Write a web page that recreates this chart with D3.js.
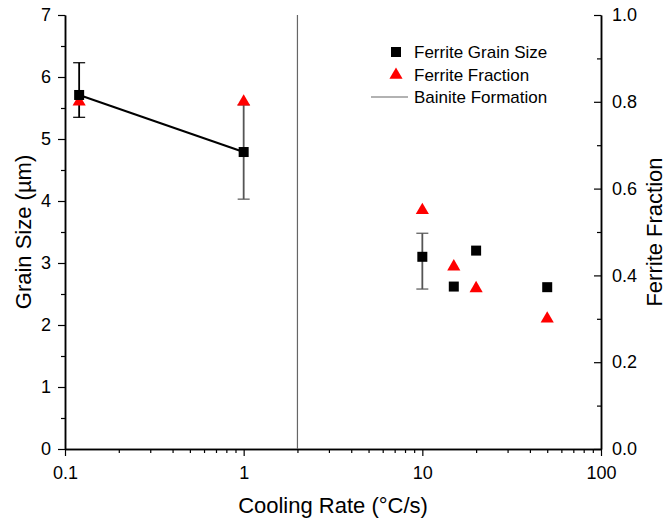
<!DOCTYPE html>
<html>
<head>
<meta charset="utf-8">
<script src="https://d3js.org/d3.v7.min.js"></script>
<style>
body { margin: 0; background: #fff; }
text { font-family: "Liberation Sans", Arial, sans-serif; fill: #000; }
</style>
</head>
<body>
<script>
// data
var rates = [0.12, 1, 10, 15, 20, 50];
var grainSize = [5.71, 4.79, 3.10, 2.62, 3.20, 2.61];
var grainErrLow = [0.36, 0.76, 0.52, null, null, null];
var grainErrHigh = [0.52, 0.76, 0.38, null, null, null];
var ferriteFraction = [0.80, 0.80, 0.55, 0.42, 0.37, 0.30];
var bainiteRate = 2;
var xTicks = [0.1, 1, 10, 100];
var yTicks = [0, 1, 2, 3, 4, 5, 6, 7];
var y2Ticks = [0, 0.2, 0.4, 0.6, 0.8, 1.0];

var W = 669, H = 519;
var mLeft = 65, mRight = 601, mTop = 15, mBottom = 449;

var svg = d3.select("body").append("svg")
    .attr("width", W)
    .attr("height", H);

var x = d3.scaleLog().domain([0.1, 100]).range([mLeft, mRight]);
var y = d3.scaleLinear().domain([0, 7]).range([mBottom, mTop]);
var y2 = d3.scaleLinear().domain([0, 1]).range([mBottom, mTop]);

// minor ticks on the log axis: 2..9 in each decade
var xMinor = [];
[0.1, 1, 10].forEach(function(d) {
    for (var k = 2; k <= 9; k++) xMinor.push(d * k);
});

// bottom axis
var gx = svg.append("g").attr("transform", "translate(0," + mBottom + ")");
gx.call(d3.axisBottom(x).tickValues(xTicks).tickFormat(d3.format("~g")).tickSize(7).tickPadding(10).tickSizeOuter(0));
gx.append("g").call(d3.axisBottom(x).tickValues(xMinor).tickFormat("").tickSize(4).tickSizeOuter(0));

// left axis
var gy = svg.append("g").attr("transform", "translate(" + mLeft + ",0)");
gy.call(d3.axisLeft(y).tickValues(yTicks).tickFormat(d3.format("d")).tickSize(7).tickPadding(7).tickSizeOuter(0));
gy.append("g").call(d3.axisLeft(y).tickValues(d3.range(0.5, 7, 1)).tickFormat("").tickSize(4).tickSizeOuter(0));

// right axis, ticks point inward, labels outside
var gy2 = svg.append("g").attr("transform", "translate(" + mRight + ",0)");
gy2.call(d3.axisRight(y2).tickValues(y2Ticks).tickFormat(d3.format(".1f")).tickSize(-7).tickPadding(11).tickSizeOuter(0));
gy2.append("g").call(d3.axisRight(y2).tickValues([0.1, 0.3, 0.5, 0.7, 0.9]).tickFormat("").tickSize(-4).tickSizeOuter(0));

[gx, gy, gy2].forEach(function(g) {
    g.selectAll(".domain").attr("stroke", "#000").attr("stroke-width", 1.5);
    g.selectAll("line").attr("stroke", "#000").attr("stroke-width", 1.2);
    g.selectAll("text").attr("font-size", 18).attr("font-family", "Liberation Sans, Arial, sans-serif");
});

// axis titles
svg.append("text").attr("x", (mLeft + mRight) / 2).attr("y", 513)
    .attr("text-anchor", "middle").style("font-size", "22px").text("Cooling Rate (°C/s)");
svg.append("text").attr("transform", "translate(31," + (mTop + mBottom) / 2 + ") rotate(-90)")
    .attr("text-anchor", "middle").style("font-size", "22px").text("Grain Size (µm)");
svg.append("text").attr("transform", "translate(662," + (mTop + mBottom) / 2 + ") rotate(-90)")
    .attr("text-anchor", "middle").style("font-size", "22px").text("Ferrite Fraction");

// bainite formation line
svg.append("line")
    .attr("x1", x(bainiteRate)).attr("x2", x(bainiteRate))
    .attr("y1", mTop).attr("y2", mBottom)
    .attr("stroke", "#666").attr("stroke-width", 1.2);

// error bars
var errData = rates.map(function(r, i) {
    return { r: r, v: grainSize[i], lo: grainErrLow[i], hi: grainErrHigh[i], i: i };
}).filter(function(d) { return d.lo !== null; });

var eb = svg.selectAll(".err").data(errData).enter().append("g").attr("class", "err")
    .attr("stroke", function(d) { return d.i === 0 ? "#000" : "#555"; })
    .attr("stroke-width", 1.2);
eb.append("line")
    .attr("x1", function(d) { return x(d.r); }).attr("x2", function(d) { return x(d.r); })
    .attr("y1", function(d) { return y(d.v - d.lo); })
    .attr("y2", function(d) { return y(d.v + d.hi); })
    .attr("stroke-width", 1.8);
eb.selectAll(".cap").data(function(d) { return [d.v - d.lo, d.v + d.hi].map(function(v) { return { r: d.r, v: v }; }); })
    .enter().append("line")
    .attr("x1", function(d) { return x(d.r) - 6; }).attr("x2", function(d) { return x(d.r) + 6; })
    .attr("y1", function(d) { return y(d.v); }).attr("y2", function(d) { return y(d.v); });

// line joining the first two grain size points
svg.append("path")
    .datum(rates.slice(0, 2).map(function(r, i) { return [r, grainSize[i]]; }))
    .attr("fill", "none").attr("stroke", "#000").attr("stroke-width", 2)
    .attr("d", d3.line().x(function(d) { return x(d[0]); }).y(function(d) { return y(d[1]); }));

// ferrite fraction triangles
var tri = d3.symbol().type(d3.symbolTriangle).size(75);
svg.selectAll(".tri").data(rates).enter().append("path")
    .attr("class", "tri")
    .attr("d", tri)
    .attr("fill", "#ff0000")
    .attr("transform", function(d, i) { return "translate(" + x(d) + "," + y2(ferriteFraction[i]) + ")"; });

// grain size squares
svg.selectAll(".sq").data(rates).enter().append("rect")
    .attr("class", "sq")
    .attr("x", function(d) { return x(d) - 5; })
    .attr("y", function(d, i) { return y(grainSize[i]) - 5; })
    .attr("width", 10).attr("height", 10)
    .attr("fill", "#000");

// legend
var lg = svg.append("g");
lg.append("rect").attr("x", 391).attr("y", 47).attr("width", 10).attr("height", 10).attr("fill", "#000");
lg.append("path").attr("d", tri).attr("fill", "#ff0000").attr("transform", "translate(396,75)");
lg.append("line").attr("x1", 371).attr("x2", 408).attr("y1", 97).attr("y2", 97).attr("stroke", "#666").attr("stroke-width", 1.2);
[["Ferrite Grain Size", 52], ["Ferrite Fraction", 75], ["Bainite Formation", 97]].forEach(function(d) {
    lg.append("text").attr("x", 414).attr("y", d[1]).attr("dy", "0.35em")
        .style("font-size", "17px").text(d[0]);
});
</script>
</body>
</html>
